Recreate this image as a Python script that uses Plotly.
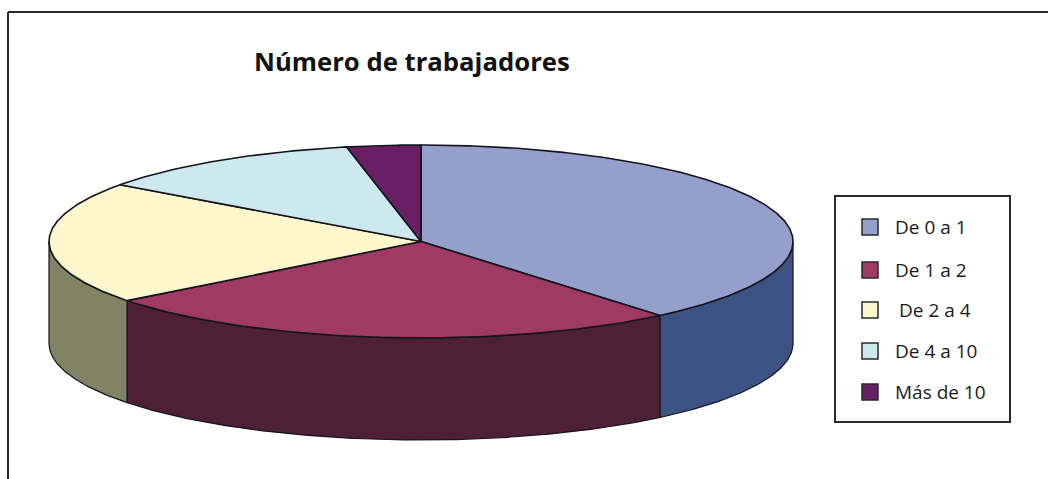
import numpy as np
import plotly.graph_objects as go

categories = ["De 0 a 1", "De 1 a 2", "De 2 a 4", "De 4 a 10", "Más de 10"]
values = [38.9, 25.6, 20.5, 11.8, 3.2]
top_colors = ["#959FCC", "#9E3A63", "#FDF7CD", "#CDE8EF", "#681F66"]
side_colors = ["#3B5282", "#4E2035", "#808464", "#66747A", "#340F33"]
title_text = "Número de trabajadores"

W, H = 1048, 479
CX, CY, RX, RY, DEPTH = 421, 241.5, 372, 96.5, 102
EDGE = "#14141c"

fig = go.Figure()


def arc(a0, a1):
    t = np.radians(np.linspace(a0, a1, max(int(abs(a1 - a0)) * 2, 2) + 1))
    return CX + RX * np.sin(t), CY - RY * np.cos(t)


bounds = np.concatenate([[0], np.cumsum(values)]) / sum(values) * 360

# outer wall: only the front half of the disc (90..270 degrees) is visible
for i in range(len(values)):
    a0, a1 = max(bounds[i], 90), min(bounds[i + 1], 270)
    if a1 <= a0:
        continue
    x, y = arc(a0, a1)
    fig.add_trace(go.Scatter(
        x=np.concatenate([x, x[::-1], x[:1]]),
        y=np.concatenate([y, y[::-1] + DEPTH, y[:1]]),
        mode="lines", fill="toself", fillcolor=side_colors[i],
        line=dict(color=EDGE, width=1.2), hoverinfo="skip", showlegend=False))

# top face
for i in range(len(values)):
    x, y = arc(bounds[i], bounds[i + 1])
    fig.add_trace(go.Scatter(
        x=np.concatenate([[CX], x, [CX]]),
        y=np.concatenate([[CY], y, [CY]]),
        mode="lines", fill="toself", fillcolor=top_colors[i],
        line=dict(color=EDGE, width=1.6), name=categories[i],
        text=[f"{categories[i]}: {values[i]}"] * (len(x) + 2),
        hoverinfo="text", showlegend=False))

# legend
row_y = [227, 270, 310, 351, 392]
fig.add_trace(go.Scatter(
    x=[870] * len(categories), y=row_y, mode="markers",
    marker=dict(symbol="square", size=16, color=top_colors,
                line=dict(color="#2a2a30", width=1.5)),
    hoverinfo="skip", showlegend=False))
text_x = [895, 895, 899, 895, 895]
for c, tx, ty in zip(categories, text_x, row_y):
    fig.add_annotation(x=tx, y=ty, text=c, showarrow=False, xanchor="left",
                       yanchor="middle", xshift=-2,
                       font=dict(family="Open Sans", size=19, color="#1a1a1a"))

fig.add_annotation(x=254, y=61, text=f"<b>{title_text}</b>", showarrow=False,
                   xanchor="left", yanchor="middle", xshift=-2,
                   font=dict(family="Open Sans", size=25.7, color="#111111"))

shapes = [
    dict(type="rect", x0=835, x1=1010, y0=196, y1=422,
         line=dict(color="#2a2a2a", width=2), fillcolor="rgba(0,0,0,0)"),
    dict(type="line", x0=8, x1=1048, y0=12, y1=12,
         line=dict(color="#2a2a2a", width=2)),
    dict(type="line", x0=8, x1=8, y0=12, y1=479,
         line=dict(color="#2a2a2a", width=2)),
]

fig.update_layout(
    width=W, height=H, margin=dict(l=0, r=0, t=0, b=0),
    paper_bgcolor="white", plot_bgcolor="white", shapes=shapes,
    xaxis=dict(range=[0, W], visible=False, fixedrange=True),
    yaxis=dict(range=[H, 0], visible=False, fixedrange=True),
)
fig.write_html("out.html", config=dict(displayModeBar=False),
               post_script="document.body.style.margin='0';document.body.style.overflow='hidden';")
